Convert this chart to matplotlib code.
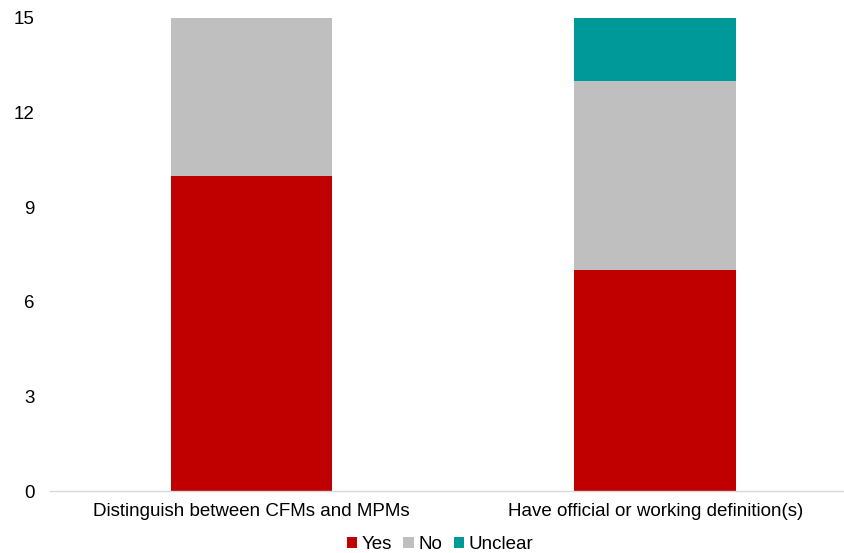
import numpy as np
import matplotlib.pyplot as plt

plt.rcParams['font.family'] = ['Liberation Sans', 'DejaVu Sans']

categories = ['Distinguish between CFMs and MPMs', 'Have official or working definition(s)']
yes = [10, 7]
no = [5, 6]
unclear = [0, 2]

fig = plt.figure(figsize=(8.44, 5.53), dpi=100)
ax = fig.add_axes([50 / 844, (553 - 491) / 553, 1 - 50 / 844, (491 - 18) / 553])

x = np.arange(len(categories))
w = 0.4
ax.bar(x, yes, w, color='#C00000', label='Yes')
ax.bar(x, no, w, bottom=yes, color='#BFBFBF', label='No')
ax.bar(x, unclear, w, bottom=np.array(yes) + np.array(no), color='#009999', label='Unclear')

ax.set_xlim(-0.5, 1.468)
ax.set_ylim(0, 15)
ax.set_yticks(range(0, 16, 3))
ax.set_xticks(x)
ax.set_xticklabels(categories)
ax.tick_params(axis='both', length=0, labelsize=13.5, colors='black')
ax.tick_params(axis='y', pad=11)
ax.tick_params(axis='x', pad=9)
for s in ['top', 'right', 'left']:
    ax.spines[s].set_visible(False)
ax.spines['bottom'].set_color('#D9D9D9')
ax.spines['bottom'].set_linewidth(1)

ax.legend(loc='upper center', bbox_to_anchor=(0.5 - 7 / 794, -0.095), ncol=3, frameon=False,
          fontsize=13.5, handlelength=0.55, handleheight=0.55, handletextpad=0.25,
          columnspacing=0.6, borderaxespad=0, borderpad=0)

fig.savefig('out.png', dpi=100)
